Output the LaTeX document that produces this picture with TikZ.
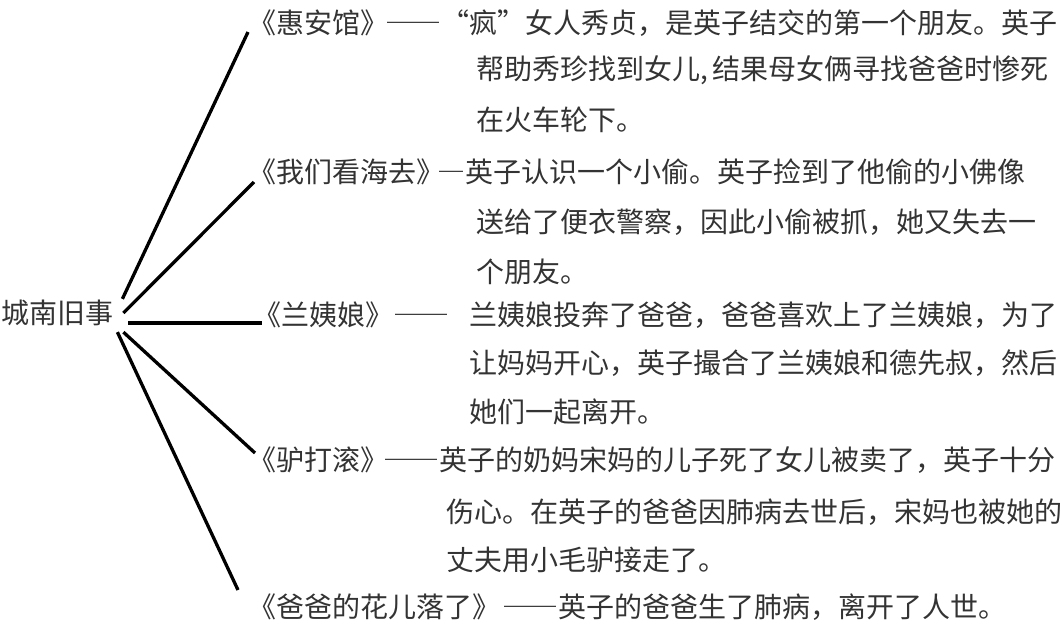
\documentclass[tikz,border=0pt]{standalone}
\usepackage{fontspec}
\setmainfont{Noto Sans CJK SC}
\usetikzlibrary{calc}
\newcommand\zdash[1]{{\addfontfeature{CharacterWidth=Full}#1}}
\begin{document}
\begin{tikzpicture}[x=1pt, y=-1pt,
    txt/.style={anchor=west, inner sep=0pt, text=black!80,
        font=\fontsize{28}{34}\selectfont},
    branch/.style={line width=3.3pt, black}]
    \useasboundingbox (0,0) rectangle (1063,632);

    % the book
    \node[txt] (root) at (1,313) {城南旧事};

    % the five stories
    \node[txt] (hui) at (248,23) {《惠安馆》};
    \node[txt] (hai) at (248,172) {《我们看海去》};
    \node[txt] (lan) at (253,315) {《兰姨娘》};
    \node[txt] (lv)  at (248,460) {《驴打滚》};
    \node[txt] (hua) at (248,607) {《爸爸的花儿落了》};

    % what happens in each story
    \node[txt] (huiA) at (385,23) {\zdash{——}“疯”女人秀贞，是英子结交的第一个朋友。英子};
    \node[txt] (huiB) at (476,70) {帮助秀珍找到女儿,\,结果母女俩寻找爸爸时惨死};
    \node[txt] (huiC) at (476,120) {在火车轮下。};

    \node[txt] (haiA) at (437,172) {\zdash{—}英子认识一个小偷。英子捡到了他偷的小佛像};
    \node[txt] (haiB) at (476,222) {送给了便衣警察，因此小偷被抓，她又失去一};
    \node[txt] (haiC) at (476,272) {个朋友。};

    \node[txt] (lanA) at (393,315) {\zdash{——}\hspace{20pt}兰姨娘投奔了爸爸，爸爸喜欢上了兰姨娘，为了};
    \node[txt] (lanB) at (469,363) {让妈妈开心，英子撮合了兰姨娘和德先叔，然后};
    \node[txt] (lanC) at (469,412) {她们一起离开。};

    \node[txt] (lvA) at (383,460) {\zdash{——}英子的奶妈宋妈的儿子死了女儿被卖了，英子十分};
    \node[txt] (lvB) at (446,512) {伤心。在英子的爸爸因肺病去世后，宋妈也被她的};
    \node[txt] (lvC) at (446,560) {丈夫用小毛驴接走了。};

    \node[txt] (huaA) at (502,607) {\zdash{——}英子的爸爸生了肺病，离开了人世。};

    % branches from the book to the stories
    \draw[branch] ($(root.north east)+(9,-1)$) -- ($(hui.west)+(0,9)$);
    \draw[branch] ($(root.east)+(10,0)$) -- ($(hai.west)+(6,10)$);
    \draw[branch] ($(root.east)+(15,10)$) -- ($(lan.west)+(9,8)$);
    \draw[branch] ($(root.south east)+(10,6)$) -- ($(lv.west)+(7,-7)$);
    \draw[branch] ($(root.south east)+(4,6)$) -- ($(hua.west)+(-10,-17)$);
\end{tikzpicture}
\end{document}
